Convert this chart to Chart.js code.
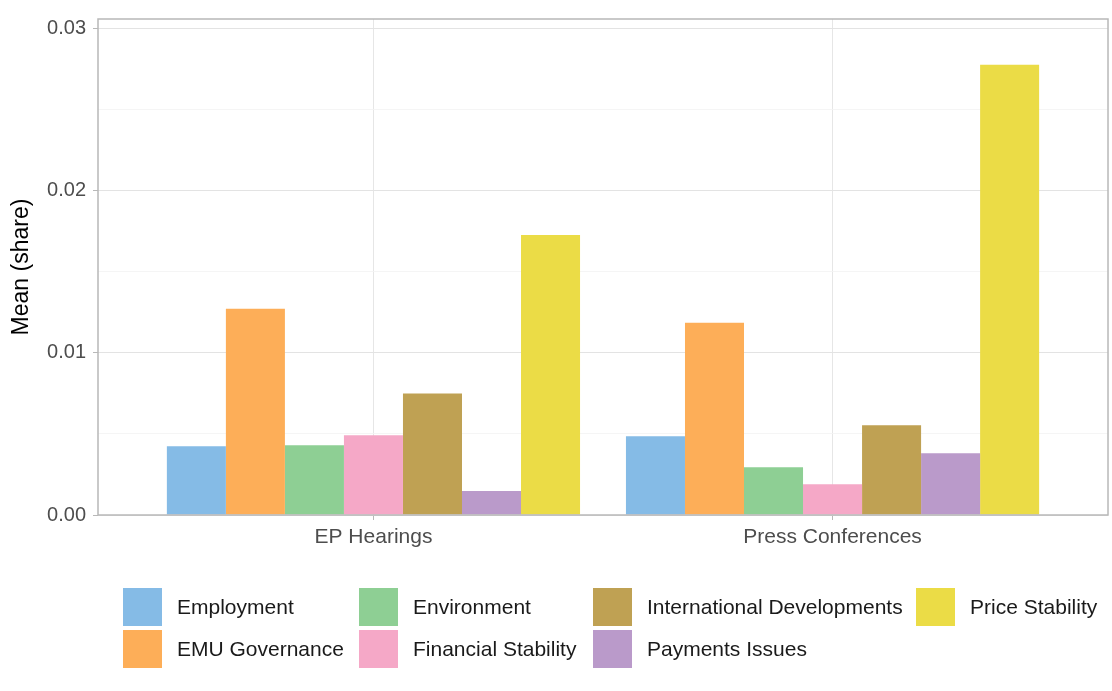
<!DOCTYPE html>
<html>
<head>
<meta charset="utf-8">
<script src="https://cdn.jsdelivr.net/npm/chart.js@4"></script>
<style>
  body { margin: 0; background: #fff; }
  #wrap { position: relative; width: 1112px; height: 691px; }
  .key { position: absolute; width: 39px; height: 38px; }
  .lab { position: absolute; font-family: "Liberation Sans", Arial, sans-serif; font-size: 21px; color: #1a1a1a; line-height: 38px; white-space: nowrap; }
</style>
</head>
<body>
<div id="wrap">
  <canvas id="barChart" width="1112" height="691"></canvas>
</div>
<script>
// ======================= DATA =======================
const categories = ['EP Hearings', 'Press Conferences'];
const topics = ['Employment', 'EMU Governance', 'Environment', 'Financial Stability',
                'International Developments', 'Payments Issues', 'Price Stability'];
const employment = [0.00424, 0.00486];
const emuGovernance = [0.01272, 0.01186];
const environment = [0.0043, 0.00295];
const financialStability = [0.00492, 0.0019];
const internationalDev = [0.0075, 0.00553];
const paymentsIssues = [0.00148, 0.00381];
const priceStability = [0.01727, 0.02778];
const yTickLabels = ['0.00', '0.01', '0.02', '0.03'];

const seriesValues = [employment, emuGovernance, environment, financialStability,
                      internationalDev, paymentsIssues, priceStability];
const colors = ['#85bbe6', '#fdae58', '#8ecf94', '#f5a8c7', '#bfa153', '#ba9aca', '#ebdc46'];

const FONT = '"Liberation Sans", Arial, sans-serif';

// panel border drawn over the plot area, like ggplot's theme_light
const panelBorder = {
    id: 'panelBorder',
    afterDatasetsDraw(chart) {
        const { ctx, chartArea: a } = chart;
        ctx.save();
        ctx.strokeStyle = '#b8b8b8';
        ctx.lineWidth = 1.5;
        ctx.strokeRect(a.left, a.top, a.right - a.left, a.bottom - a.top);
        ctx.restore();
    }
};

const isMajor = v => Math.abs(v * 100 - Math.round(v * 100)) < 1e-6;

new Chart(document.getElementById('barChart').getContext('2d'), {
    type: 'bar',
    data: {
        datasets: topics.map((name, i) => ({
            label: name,
            data: seriesValues[i].map((v, j) => ({ x: j, y: v })),
            backgroundColor: colors[i],
            borderWidth: 0,
            categoryPercentage: 0.9,
            barPercentage: 1.0
        }))
    },
    options: {
        responsive: false,
        animation: false,
        layout: { padding: { left: 8, right: 4, top: 19, bottom: 120 } },
        plugins: { legend: { display: false }, tooltip: { enabled: false } },
        scales: {
            x: {
                type: 'linear',
                offset: false,
                min: -0.6,
                max: 1.6,
                afterBuildTicks: s => { s.ticks = categories.map((c, i) => ({ value: i })); },
                afterFit: s => { s.height = 56; },
                ticks: {
                    callback: v => categories[v],
                    color: '#4d4d4d',
                    font: { family: FONT, size: 21 },
                    padding: 5
                },
                grid: { offset: false, color: '#e6e6e6', lineWidth: 1, tickLength: 5, tickColor: '#b8b8b8' },
                border: { display: false }
            },
            y: {
                min: 0,
                max: 0.0306,
                afterFit: s => { s.width = 90; },
                ticks: {
                    stepSize: 0.005,
                    includeBounds: false,
                    autoSkip: false,
                    callback: v => isMajor(v) ? yTickLabels[Math.round(v * 100)] : '',
                    color: '#4d4d4d',
                    font: { family: FONT, size: 20 },
                    padding: 7
                },
                grid: {
                    color: c => isMajor(c.tick.value) ? '#e3e3e3' : '#f2f2f2',
                    lineWidth: c => isMajor(c.tick.value) ? 1 : 0.8,
                    tickLength: 5,
                    tickColor: c => isMajor(c.tick.value) ? '#b8b8b8' : 'rgba(0,0,0,0)'
                },
                border: { display: false },
                title: {
                    display: true,
                    text: 'Mean (share)',
                    color: '#000',
                    font: { family: FONT, size: 23 },
                    padding: 0
                }
            }
        }
    },
    plugins: [panelBorder]
});

// ======================= LEGEND (column-major, 4 columns x 2 rows) =======================
const legendCols = [123, 359, 593, 916];
const legendRows = [588, 630];
const wrap = document.getElementById('wrap');
topics.forEach((name, i) => {
    const col = Math.floor(i / 2), row = i % 2;
    const key = document.createElement('div');
    key.className = 'key';
    key.style.left = legendCols[col] + 'px';
    key.style.top = legendRows[row] + 'px';
    key.style.background = colors[i];
    wrap.appendChild(key);
    const lab = document.createElement('div');
    lab.className = 'lab';
    lab.style.left = (legendCols[col] + 54) + 'px';
    lab.style.top = legendRows[row] + 'px';
    lab.textContent = name;
    wrap.appendChild(lab);
});
</script>
</body>
</html>
